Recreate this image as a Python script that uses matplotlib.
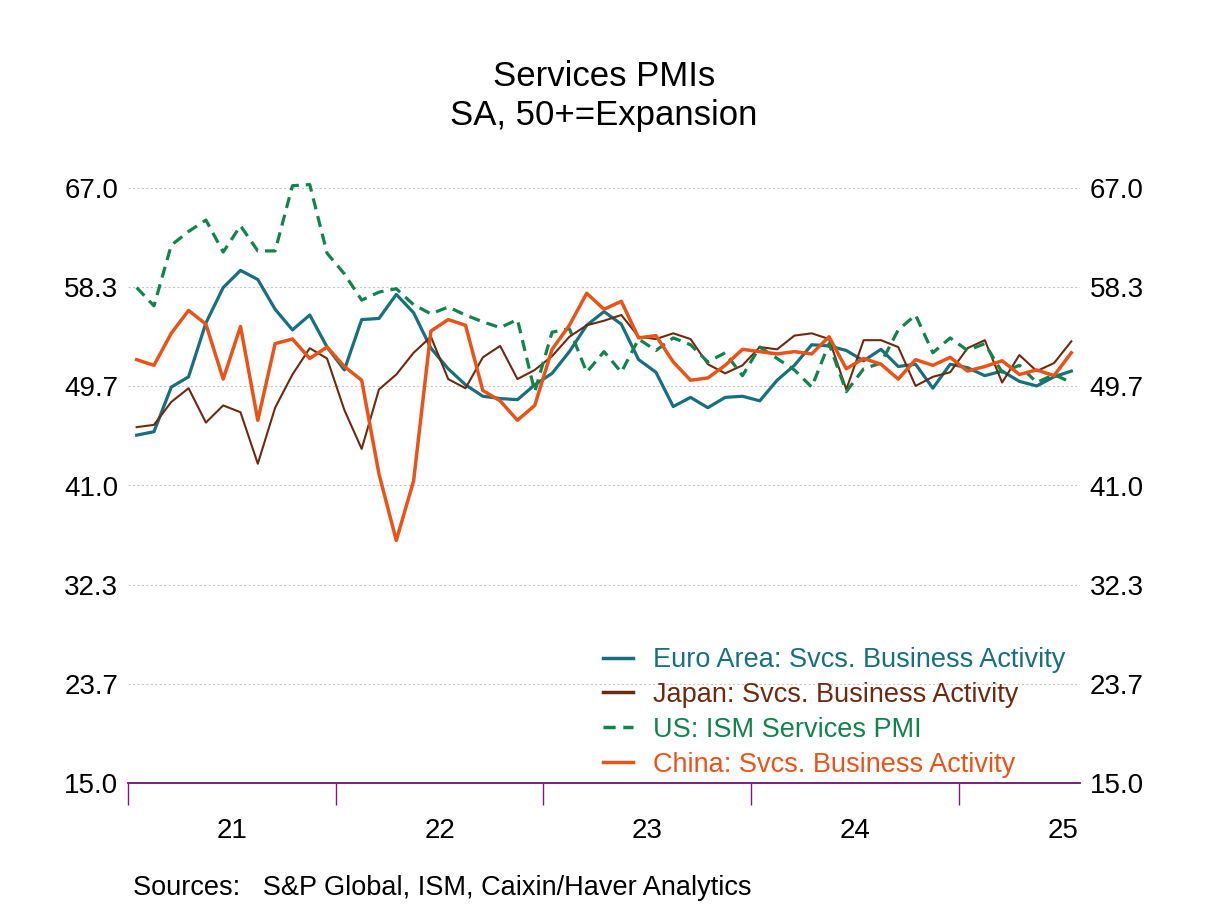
import numpy as np
import pandas as pd
import matplotlib
matplotlib.use("Agg")
import matplotlib.pyplot as plt

plt.rcParams['font.family'] = ['Liberation Sans', 'DejaVu Sans']

# monthly, Jan 2021 .. Jul 2025
months = pd.period_range('2021-01', '2025-07', freq='M')

euro = [45.4, 45.7, 49.6, 50.5, 55.2, 58.3, 59.8, 59.0, 56.4, 54.6, 55.9, 53.1,
        51.1, 55.5, 55.6, 57.7, 56.1, 53.0, 51.2, 49.8, 48.8, 48.6, 48.5, 49.8,
        50.8, 52.7, 55.0, 56.2, 55.1, 52.0, 50.9, 47.9, 48.7, 47.8, 48.7, 48.8,
        48.4, 50.2, 51.5, 53.3, 53.2, 52.8, 51.9, 52.9, 51.4, 51.6, 49.5, 51.6,
        51.3, 50.6, 51.0, 50.1, 49.7, 50.5, 51.0]

japan = [46.1, 46.3, 48.3, 49.5, 46.5, 48.0, 47.4, 42.9, 47.8, 50.7, 53.0, 52.1,
         47.6, 44.2, 49.4, 50.7, 52.6, 54.0, 50.3, 49.5, 52.2, 53.2, 50.3, 51.1,
         52.3, 54.0, 55.0, 55.4, 55.9, 54.0, 53.8, 54.3, 53.8, 51.6, 50.8, 51.5,
         53.1, 52.9, 54.1, 54.3, 53.8, 49.4, 53.7, 53.7, 53.1, 49.7, 50.5, 50.9,
         53.0, 53.7, 50.0, 52.4, 51.0, 51.7, 53.6]

us_ism = [58.3, 56.7, 62.0, 63.2, 64.2, 61.4, 63.7, 61.5, 61.5, 67.2, 67.3, 61.3,
          59.5, 57.2, 57.9, 58.2, 56.8, 56.0, 56.6, 55.9, 55.3, 54.8, 55.5, 49.2,
          54.4, 54.7, 50.9, 52.7, 50.9, 53.8, 52.8, 53.9, 53.3, 51.8, 52.6, 50.6,
          53.1, 52.1, 51.1, 49.6, 53.4, 49.2, 51.2, 51.7, 54.6, 55.9, 52.6, 53.9,
          52.8, 53.4, 50.9, 51.5, 50.0, 50.7, 50.0]

china = [52.0, 51.5, 54.3, 56.3, 55.1, 50.3, 54.9, 46.7, 53.4, 53.8, 52.1, 53.1,
         51.4, 50.2, 42.0, 36.2, 41.4, 54.5, 55.5, 55.0, 49.3, 48.4, 46.7, 48.0,
         52.9, 55.0, 57.8, 56.4, 57.1, 53.9, 54.1, 51.8, 50.2, 50.4, 51.5, 52.9,
         52.7, 52.5, 52.7, 52.5, 54.0, 51.2, 52.1, 51.6, 50.3, 52.0, 51.5, 52.2,
         51.0, 51.4, 51.9, 50.7, 51.1, 50.6, 52.6]

year_labels = ['21', '22', '23', '24', '25']
y_ticks = np.linspace(15.0, 67.0, 7)

c_euro = '#17707F'
c_japan = '#6E2A10'
c_us = '#13834E'
c_china = '#EA5318'
c_axis = '#7A1E80'

x = np.arange(len(months)) + 0.5

fig = plt.figure(figsize=(12.08, 9.06), dpi=100)
ax = fig.add_axes([128 / 1208, 1 - 783 / 906, 952 / 1208, 595 / 906])

ax.plot(x, euro, color=c_euro, lw=2.3, label='Euro Area: Svcs. Business Activity', clip_on=False)
ax.plot(x, japan, color=c_japan, lw=1.5, label='Japan: Svcs. Business Activity', clip_on=False)
ax.plot(x, us_ism, color=c_us, lw=2.3, ls=(0, (3.5, 2.2)), label='US: ISM Services PMI', clip_on=False)
ax.plot(x, china, color=c_china, lw=2.5, label='China: Svcs. Business Activity', clip_on=False)

ax.set_xlim(0, len(months))
ax.set_ylim(15, 67)

# y axis both sides
ax.set_yticks(y_ticks)
ax.set_yticklabels([f'{v:.1f}' for v in y_ticks], fontsize=20)
ax.tick_params(axis='y', length=0, pad=7)
ax2 = ax.twinx()
ax2.set_ylim(15, 67)
ax2.set_yticks(y_ticks)
ax2.set_yticklabels([f'{v:.1f}' for v in y_ticks], fontsize=20)
ax2.tick_params(axis='y', length=0, pad=7)

for v in y_ticks[1:]:
    ax.axhline(v, color='#c8c8c8', lw=0.8, ls=(0, (2, 2)), zorder=0)

for a in (ax, ax2):
    for s in ('top', 'left', 'right'):
        a.spines[s].set_visible(False)
    a.spines['bottom'].set_color(c_axis)
    a.spines['bottom'].set_linewidth(1.2)

# year boundaries and labels
ax.set_xticks([0, 12, 24, 36, 48])
ax.set_xticklabels([])
ax.tick_params(axis='x', which='major', direction='out', length=16, width=1.0, color=c_axis)
ax.set_xticks([6, 18, 30, 42, 54], minor=True)
ax.set_xticklabels(year_labels, minor=True, fontsize=20)
ax.tick_params(axis='x', which='minor', length=0, pad=25)

leg = ax.legend(loc='upper left', bbox_to_anchor=(603 / 1208, 1 - 647 / 906),
                bbox_transform=fig.transFigure, frameon=False, fontsize=19.5,
                handlelength=1.1, handletextpad=0.75, labelspacing=0.33,
                borderpad=0, borderaxespad=0, labelcolor='linecolor')
for h in leg.get_lines():
    h.set_linewidth(2.5)

fig.text(0.5, 1 - 76 / 906, 'Services PMIs', ha='center', va='center', fontsize=25)
fig.text(0.5, 1 - 116 / 906, 'SA, 50+=Expansion', ha='center', va='center', fontsize=25)
fig.text(133 / 1208, 1 - 888 / 906, 'Sources:   S&P Global, ISM, Caixin/Haver Analytics',
         ha='left', va='center', fontsize=19.5)

fig.savefig('out.png', dpi=100)
